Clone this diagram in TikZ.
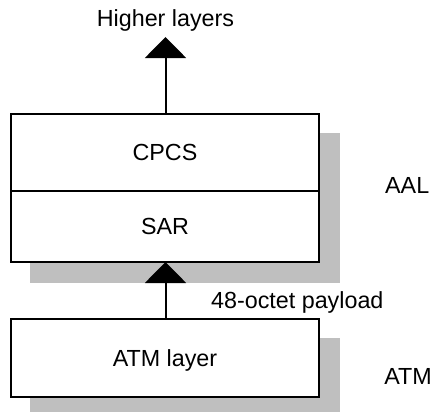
\documentclass[tikz,border=0pt]{standalone}
\usepackage{fontspec}
\setmainfont{Liberation Sans}
\usetikzlibrary{arrows.meta}
\definecolor{shadowgray}{RGB}{191,191,191}
\begin{document}
\begin{tikzpicture}[x=1pt,y=-1pt,
  every node/.style={font=\fontsize{23.3}{28}\selectfont},
  layerbox/.style={draw=black, line width=1.2pt, fill=white, minimum width=308pt, inner sep=0pt, outer sep=0pt, text depth=0pt},
  shadowbox/.style={fill=shadowgray},
  uparrow/.style={line width=2pt, -{Triangle[width=41pt,length=21pt]}},
  lbl/.style={inner sep=0pt, anchor=base west}]
\useasboundingbox (0,0) rectangle (434,418);
% shadows
\fill[shadowbox] (30,133) rectangle (340,283);
\fill[shadowbox] (30,338) rectangle (340,412);
% boxes
\node[layerbox, minimum height=77pt] (cpcs) at (165,152.5) {CPCS};
\node[layerbox, minimum height=71pt] (sar) at (165,226.5) {SAR};
\node[layerbox, minimum height=78pt] (atm) at (165,358) {ATM layer};
% labels
\node[inner sep=0pt, anchor=base] (hl) at (165.5,26) {Higher layers};
\coordinate (hltip) at (165.5,37);
\node[lbl] (payload) at (211,308) {48-octet payload};
\node[lbl] (aal) at (385,193) {AAL};
\node[inner sep=0pt, anchor=base east] (atmlbl) at (432,384) {ATM};
% arrows
\draw[uparrow] (cpcs.north -| hltip) -- (hltip);
\draw[uparrow] (atm.north -| hltip) -- (sar.south -| hltip);
\end{tikzpicture}
\end{document}
